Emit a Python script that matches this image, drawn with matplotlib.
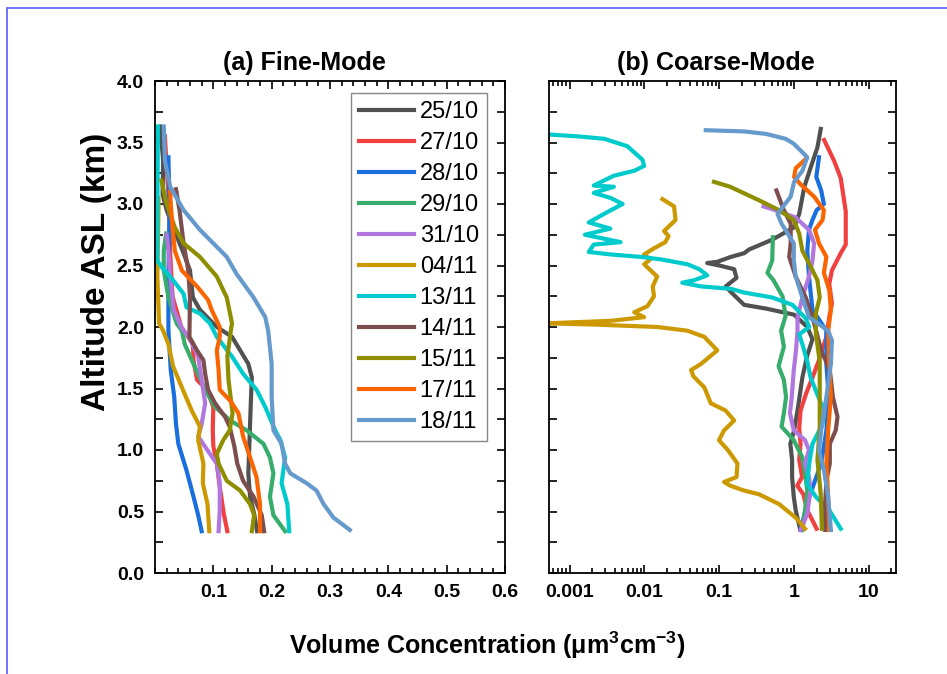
import matplotlib
matplotlib.use("Agg")
import matplotlib.pyplot as plt
from matplotlib.patches import Rectangle
from matplotlib.ticker import MultipleLocator, LogLocator, NullFormatter, FixedLocator

plt.rcParams['font.family'] = ['Liberation Sans', 'DejaVu Sans']
plt.rcParams['axes.unicode_minus'] = False

dates = ["25/10", "27/10", "28/10", "29/10", "31/10", "04/11",
         "13/11", "14/11", "15/11", "17/11", "18/11"]
colors = ["#515151", "#F14040", "#1A6FDF", "#37AD6B", "#B177DE", "#CC9900",
          "#00CBCC", "#7D4E4E", "#8E8E00", "#FB6501", "#6699CC"]

# ---- (a) fine mode profiles: altitude (km) / volume concentration
f2510_alt = [0.34, 0.48, 0.62, 0.81, 1.08, 1.35, 1.59, 1.70, 1.81, 1.92, 2.00, 2.14, 2.24, 2.46, 2.60, 2.81, 2.95, 3.08, 3.35, 3.63]
f2510_v = [0.175, 0.170, 0.163, 0.160, 0.162, 0.164, 0.166, 0.160, 0.146, 0.132, 0.106, 0.077, 0.065, 0.060, 0.049, 0.031, 0.020, 0.013, 0.014, 0.009]
f2710_alt = [0.34, 0.48, 0.70, 0.89, 1.03, 1.16, 1.35, 1.49, 1.57, 1.73, 1.86, 2.0, 2.25, 2.6, 3.0, 3.3, 3.55]
f2710_v = [0.124, 0.118, 0.111, 0.106, 0.100, 0.099, 0.100, 0.089, 0.072, 0.066, 0.065, 0.045, 0.030, 0.026, 0.024, 0.020, 0.017]
f2810_alt = [0.34, 0.47, 0.62, 0.835, 1.05, 1.21, 1.43, 1.65, 1.97, 2.41, 2.95, 3.38]
f2810_v = [0.080, 0.074, 0.066, 0.054, 0.040, 0.036, 0.033, 0.027, 0.023, 0.023, 0.025, 0.023]
f2910_alt = [0.34, 0.47, 0.62, 0.81, 0.94, 1.05, 1.16, 1.24, 1.35, 1.49, 1.70, 1.86, 1.97, 2.03, 2.24, 2.46, 2.62, 2.76]
f2910_v = [0.223, 0.203, 0.197, 0.203, 0.197, 0.186, 0.157, 0.129, 0.103, 0.086, 0.066, 0.051, 0.046, 0.037, 0.023, 0.015, 0.015, 0.019]
f3110_alt = [0.34, 0.51, 0.73, 0.89, 0.97, 1.11, 1.21, 1.38, 1.57, 1.76, 1.90, 2.0, 2.14, 2.41, 2.62, 2.75]
f3110_v = [0.109, 0.111, 0.111, 0.106, 0.094, 0.074, 0.080, 0.086, 0.080, 0.074, 0.060, 0.045, 0.032, 0.026, 0.023, 0.020]
f0411_alt = [0.34, 0.56, 0.73, 0.89, 1.08, 1.19, 1.32, 1.51, 1.68, 1.86, 1.97, 2.03, 2.41, 2.95, 3.05]
f0411_v = [0.093, 0.090, 0.082, 0.083, 0.074, 0.077, 0.063, 0.046, 0.031, 0.023, 0.014, 0.007, 0.004, 0.006, 0.006]
f1311_alt = [0.34, 0.56, 0.73, 0.835, 0.94, 1.08, 1.16, 1.35, 1.49, 1.62, 1.76, 1.92, 2.03, 2.11, 2.16, 2.27, 2.38, 2.49, 2.54, 2.95, 3.63]
f1311_v = [0.230, 0.227, 0.217, 0.220, 0.223, 0.215, 0.206, 0.189, 0.174, 0.151, 0.132, 0.106, 0.094, 0.077, 0.054, 0.049, 0.031, 0.011, 0.004, 0.004, 0.005]
f1411_alt = [0.34, 0.47, 0.62, 0.75, 0.89, 1.03, 1.19, 1.27, 1.38, 1.49, 1.62, 1.73, 1.81, 1.92, 2.24, 2.46, 2.68, 2.95, 3.12]
f1411_v = [0.187, 0.183, 0.169, 0.151, 0.141, 0.136, 0.128, 0.120, 0.103, 0.091, 0.086, 0.083, 0.072, 0.059, 0.060, 0.057, 0.049, 0.042, 0.036]
f1511_alt = [0.34, 0.47, 0.56, 0.67, 0.75, 0.89, 0.97, 1.08, 1.16, 1.30, 1.57, 1.76, 1.97, 2.03, 2.24, 2.41, 2.57, 2.68, 2.81, 3.00, 3.19]
f1511_v = [0.166, 0.170, 0.163, 0.146, 0.123, 0.109, 0.106, 0.117, 0.128, 0.133, 0.126, 0.124, 0.130, 0.132, 0.123, 0.106, 0.077, 0.049, 0.034, 0.020, 0.011]
f1711_alt = [0.34, 0.56, 0.78, 0.94, 1.11, 1.30, 1.40, 1.49, 1.65, 1.81, 1.92, 2.0, 2.14, 2.22, 2.33, 2.46, 2.62, 2.81, 3.00, 3.10]
f1711_v = [0.180, 0.180, 0.174, 0.163, 0.151, 0.143, 0.129, 0.111, 0.109, 0.106, 0.111, 0.111, 0.097, 0.091, 0.072, 0.046, 0.034, 0.030, 0.027, 0.026]
f1811_alt = [0.35, 0.45, 0.56, 0.67, 0.73, 0.81, 0.89, 1.05, 1.16, 1.43, 1.70, 1.97, 2.08, 2.24, 2.43, 2.57, 2.68, 2.79, 2.95, 3.14, 3.35, 3.63]
f1811_v = [0.334, 0.306, 0.289, 0.277, 0.260, 0.232, 0.223, 0.217, 0.203, 0.200, 0.200, 0.194, 0.189, 0.169, 0.140, 0.123, 0.100, 0.077, 0.049, 0.026, 0.017, 0.015]

# ---- (b) coarse mode profiles
c2510_alt = [0.36, 0.51, 0.62, 0.78, 0.92, 1.05, 1.16, 1.32, 1.59, 1.77, 1.90, 2.0, 2.10, 2.15, 2.18, 2.24, 2.29, 2.33, 2.40, 2.47, 2.50, 2.52, 2.53, 2.57, 2.60, 2.63, 2.71, 2.81, 2.92, 3.14, 3.30, 3.46, 3.61]
c2510_v = [1.2, 1.05, 0.99, 0.94, 0.94, 0.89, 1.0, 1.11, 1.29, 1.5, 1.76, 1.5, 1.0, 0.42, 0.215, 0.17, 0.14, 0.122, 0.17, 0.158, 0.10, 0.069, 0.094, 0.143, 0.215, 0.25, 0.51, 1.0, 1.17, 1.37, 1.67, 2.05, 2.27]
c2710_alt = [0.36, 0.51, 0.64, 0.71, 0.78, 0.92, 1.05, 1.18, 1.32, 1.45, 1.59, 1.73, 1.92, 2.08, 2.19, 2.35, 2.46, 2.60, 2.67, 2.94, 3.21, 3.35, 3.52]
c2710_v = [2.0, 1.5, 1.33, 1.1, 1.28, 1.17, 1.22, 1.17, 1.22, 1.43, 1.76, 2.15, 2.7, 2.95, 3.2, 2.95, 3.2, 4.2, 4.9, 4.9, 4.2, 3.43, 2.52]
c2810_alt = [0.35, 0.57, 0.75, 0.89, 1.16, 1.43, 1.70, 1.97, 2.14, 2.41, 2.62, 2.79, 2.87, 2.95, 3.0, 3.11, 3.22, 3.38]
c2810_v = [1.22, 1.5, 1.9, 2.3, 2.7, 2.9, 2.7, 2.7, 1.76, 1.58, 1.5, 1.58, 1.76, 2.0, 2.5, 2.3, 1.98, 2.15]
c2910_alt = [0.35, 0.51, 0.67, 0.81, 0.94, 1.08, 1.19, 1.30, 1.43, 1.57, 1.68, 1.84, 1.97, 2.09, 2.25, 2.38, 2.44, 2.54, 2.73]
c2910_v = [1.29, 1.4, 1.5, 1.4, 1.29, 0.99, 0.68, 0.73, 0.78, 0.73, 0.62, 0.73, 0.67, 0.77, 0.7, 0.53, 0.44, 0.51, 0.52]
c3110_alt = [0.35, 0.48, 0.67, 0.78, 0.89, 1.0, 1.08, 1.16, 1.30, 1.43, 1.65, 1.81, 1.97, 2.08, 2.24, 2.41, 2.54, 2.68, 2.79, 2.89, 2.96, 2.98]
c3110_v = [1.22, 1.5, 1.65, 1.58, 1.4, 1.58, 1.4, 0.99, 0.88, 0.93, 0.99, 1.06, 1.11, 1.11, 1.29, 1.58, 1.76, 1.85, 1.58, 1.05, 0.5, 0.39]
c0411_alt = [0.36, 0.45, 0.56, 0.64, 0.67, 0.71, 0.74, 0.78, 0.89, 1.0, 1.08, 1.16, 1.24, 1.32, 1.38, 1.51, 1.60, 1.65, 1.70, 1.81, 1.92, 1.97, 2.0, 2.02, 2.03, 2.05, 2.08, 2.12, 2.17, 2.25, 2.33, 2.41, 2.51, 2.55, 2.59, 2.64, 2.69, 2.74, 2.78, 2.87, 2.98, 3.04]
c0411_v = [1.4, 1.05, 0.63, 0.34, 0.215, 0.14, 0.116, 0.17, 0.175, 0.13, 0.099, 0.116, 0.158, 0.122, 0.077, 0.063, 0.045, 0.042, 0.057, 0.094, 0.063, 0.0375, 0.0148, 0.0021, 0.0005, 0.0035, 0.0099, 0.0073, 0.011, 0.0134, 0.0129, 0.0148, 0.0099, 0.012, 0.0099, 0.0134, 0.019, 0.021, 0.0183, 0.026, 0.0249, 0.0174]
c1311_alt = [0.36, 0.51, 0.62, 0.72, 0.89, 1.05, 1.21, 1.32, 1.45, 1.59, 1.72, 1.86, 1.94, 2.0, 2.07, 2.18, 2.24, 2.28, 2.31, 2.33, 2.36, 2.38, 2.42, 2.47, 2.51, 2.55, 2.57, 2.59, 2.61, 2.67, 2.69, 2.75, 2.80, 2.85, 2.93, 3.0, 3.05, 3.09, 3.14, 3.15, 3.23, 3.27, 3.31, 3.36, 3.47, 3.53, 3.55, 3.57]
c1311_v = [4.2, 2.95, 1.95, 1.5, 1.59, 1.76, 2.4, 2.52, 2.05, 1.66, 1.5, 1.29, 1.17, 1.59, 1.43, 0.95, 0.51, 0.215, 0.143, 0.057, 0.032, 0.046, 0.069, 0.054, 0.0375, 0.0165, 0.0089, 0.0035, 0.0018, 0.0021, 0.0048, 0.0016, 0.0035, 0.0018, 0.0031, 0.0051, 0.0035, 0.0021, 0.0039, 0.0021, 0.0039, 0.0073, 0.0099, 0.0094, 0.0059, 0.0029, 0.00127, 0.0004]
c1411_alt = [0.35, 0.57, 0.75, 0.89, 1.05, 1.16, 1.27, 1.43, 1.65, 1.81, 1.97, 2.08, 2.24, 2.41, 2.57, 2.68, 2.84, 2.95, 3.11]
c1411_v = [2.6, 2.6, 2.7, 3.0, 3.0, 3.6, 3.8, 3.3, 3.0, 2.3, 1.97, 1.76, 1.43, 1.05, 0.86, 0.9, 0.9, 0.73, 0.58]
c1511_alt = [0.36, 0.64, 0.92, 1.18, 1.45, 1.72, 1.95, 2.11, 2.24, 2.38, 2.49, 2.62, 2.76, 2.87, 2.95, 3.03, 3.14, 3.18]
c1511_v = [2.35, 2.27, 2.05, 2.2, 2.2, 2.2, 1.95, 1.95, 2.2, 2.05, 1.67, 1.29, 1.17, 0.99, 0.63, 0.34, 0.14, 0.085]
c1711_alt = [0.35, 0.62, 0.89, 1.16, 1.43, 1.70, 1.97, 2.14, 2.30, 2.44, 2.57, 2.68, 2.79, 2.87, 2.95, 3.06, 3.16, 3.22, 3.29, 3.36]
c1711_v = [2.95, 2.85, 2.7, 2.85, 3.1, 2.95, 2.85, 3.1, 2.95, 2.5, 2.7, 2.15, 1.9, 2.4, 2.5, 1.85, 1.22, 1.0, 1.05, 1.4]
c1811_alt = [0.35, 0.62, 0.84, 1.0, 1.16, 1.43, 1.70, 1.89, 1.97, 2.08, 2.24, 2.41, 2.54, 2.68, 2.84, 2.92, 3.06, 3.18, 3.27, 3.38, 3.49, 3.53, 3.57, 3.59, 3.60]
c1811_v = [3.1, 2.85, 2.5, 2.15, 2.3, 2.7, 3.1, 3.2, 2.85, 1.58, 1.29, 1.05, 0.99, 0.99, 0.68, 0.6, 0.9, 1.0, 1.29, 1.5, 0.99, 0.77, 0.42, 0.215, 0.066]

fine = [(f2510_v, f2510_alt), (f2710_v, f2710_alt), (f2810_v, f2810_alt), (f2910_v, f2910_alt),
        (f3110_v, f3110_alt), (f0411_v, f0411_alt), (f1311_v, f1311_alt), (f1411_v, f1411_alt),
        (f1511_v, f1511_alt), (f1711_v, f1711_alt), (f1811_v, f1811_alt)]
coarse = [(c2510_v, c2510_alt), (c2710_v, c2710_alt), (c2810_v, c2810_alt), (c2910_v, c2910_alt),
          (c3110_v, c3110_alt), (c0411_v, c0411_alt), (c1311_v, c1311_alt), (c1411_v, c1411_alt),
          (c1511_v, c1511_alt), (c1711_v, c1711_alt), (c1811_v, c1811_alt)]

fig = plt.figure(figsize=(9.47, 6.74), dpi=100)
ax1 = fig.add_axes([155/947, 1-573/674, 350/947, 492/674])
ax2 = fig.add_axes([549/947, 1-573/674, 347/947, 492/674])

for (v, a), c, d in zip(fine, colors, dates):
    ax1.plot(v, a, color=c, lw=3, label=d, solid_joinstyle='round')
for (v, a), c in zip(coarse, colors):
    ax2.plot(v, a, color=c, lw=3, solid_joinstyle='round')

ax1.set_xlim(0, 0.6)
ax1.set_xticks([0.1, 0.2, 0.3, 0.4, 0.5, 0.6])
ax1.set_xticklabels(["0.1", "0.2", "0.3", "0.4", "0.5", "0.6"])
ax1.xaxis.set_minor_locator(MultipleLocator(0.02))

ax2.set_xscale('log')
ax2.set_xlim(0.00053, 23)
ax2.xaxis.set_major_locator(FixedLocator([0.001, 0.01, 0.1, 1, 10]))
ax2.set_xticklabels(["0.001", "0.01", "0.1", "1", "10"])
ax2.xaxis.set_minor_locator(LogLocator(base=10, subs=range(2, 10), numticks=20))
ax2.xaxis.set_minor_formatter(NullFormatter())

for ax in (ax1, ax2):
    ax.set_ylim(0, 4)
    ax.yaxis.set_major_locator(MultipleLocator(0.5))
    ax.yaxis.set_minor_locator(MultipleLocator(0.25))
    ax.tick_params(which='both', direction='in', top=True, right=True, width=1.2,
                   labelsize=14, pad=8)
    ax.tick_params(which='major', length=6)
    ax.tick_params(which='minor', length=3.5)
    ax.tick_params(axis='y', which='minor', length=6)
    for s in ax.spines.values():
        s.set_linewidth(1.3)
    for lab in ax.get_xticklabels() + ax.get_yticklabels():
        lab.set_fontweight('bold')

ax1.set_yticks([0, 0.5, 1, 1.5, 2, 2.5, 3, 3.5, 4])
ax1.set_yticklabels(["%.1f" % t for t in [0, 0.5, 1, 1.5, 2, 2.5, 3, 3.5, 4]], fontweight='bold')
ax2.tick_params(axis='y', labelleft=False)

fig.text(304/947, 1-63/674, "(a) Fine-Mode", fontsize=18, fontweight='bold', ha='center', va='center')
fig.text(716/947, 1-63/674, "(b) Coarse-Mode", fontsize=18, fontweight='bold', ha='center', va='center')
fig.text(97/947, 1-272/674, "Altitude ASL (km)", fontsize=24, fontweight='bold', rotation=90,
         ha='center', va='center')
fig.text(487/947, 1-645/674, r"Volume Concentration (μm$^{\mathregular{3}}$cm$^{\mathregular{-3}}$)",
         fontsize=18, fontweight='bold', ha='center', va='center')

leg = ax1.legend(loc='upper right', bbox_to_anchor=(0.949, 0.976), borderaxespad=0,
                 fontsize=17, handlelength=2.3, handletextpad=0.25, labelspacing=0.38,
                 borderpad=0.35, fancybox=False, framealpha=1, edgecolor='#888888')
leg.get_frame().set_linewidth(1.0)

# thin blue frame around the picture (left/top edges visible)
fig.patches.append(Rectangle((7/947, -0.1), 1.2, 1-8/674+0.1, transform=fig.transFigure,
                             fill=False, edgecolor='#5a5aff', lw=1.2))

fig.savefig("out.png", dpi=100)
